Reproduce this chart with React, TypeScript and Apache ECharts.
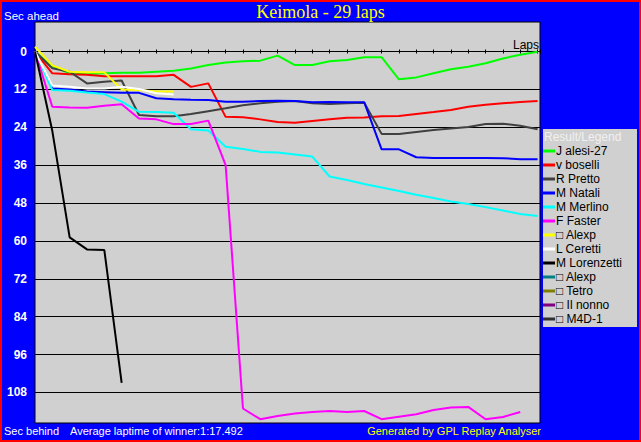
import React, { useEffect, useRef } from 'react';
import * as echarts from 'echarts';

// Tick labels on the "Sec ahead / behind" axis
const Y_TICKS = [0, 12, 24, 36, 48, 60, 72, 84, 96, 108];

// Driver names (legend order) and colours
const NAMES = [
  'J alesi-27',
  'v boselli',
  'R Pretto',
  'M Natali',
  'M Merlino',
  'F Faster',
  '□ Alexp',
  'L Ceretti',
  'M Lorenzetti',
  '□ Alexp ',
  '□ Tetro',
  '□ Il nonno',
  '□ M4D-1',
];
const COLORS = [
  '#00ff00', '#ff0000', '#404040', '#0000ff', '#00ffff', '#ff00ff',
  '#ffff00', '#ffffff', '#000000', '#008080', '#808000', '#800080', '#303030',
];

// Seconds behind the winner's pace, one value per lap (lap 0..)
const JALESI = [0, 4.8, 6.9, 7.2, 6.9, 6.7, 6.7, 6.4, 6.1, 5.4, 4.3, 3.5, 3.1, 2.9, 1.3, 4.3, 4.3, 3.1, 2.7, 1.8, 1.8, 8.8, 8.2, 6.9, 5.6, 4.8, 3.7, 2.2, 1.0, 0.1];
const BOSELLI = [0, 6.9, 7.2, 7.4, 7.8, 7.8, 7.8, 7.8, 7.4, 11.2, 10.1, 20.7, 20.8, 21.5, 22.3, 22.6, 22.0, 21.5, 21.0, 20.9, 20.5, 20.4, 19.8, 19.2, 18.5, 17.5, 16.9, 16.4, 16.0, 15.7];
const PRETTO = [0, 5.3, 6.4, 10.1, 9.6, 9.2, 20.1, 20.5, 20.5, 19.8, 18.9, 18.0, 17.0, 16.4, 15.9, 15.7, 16.4, 16.6, 16.4, 16.2, 26.1, 26.1, 25.5, 24.9, 24.4, 23.9, 23.0, 22.9, 23.5, 24.6];
const NATALI = [0, 11.7, 12.0, 12.7, 12.9, 13.1, 13.1, 14.8, 15.1, 15.3, 15.4, 15.9, 15.9, 15.7, 15.6, 15.7, 16.1, 16.0, 16.1, 16.1, 31.0, 31.0, 33.5, 33.7, 33.7, 33.7, 33.7, 33.8, 34.1, 34.1];
const MERLINO = [0, 12.2, 12.4, 13.0, 13.5, 15.9, 19.1, 19.2, 19.4, 24.6, 25.0, 30.2, 30.9, 31.8, 32.0, 32.6, 33.3, 39.6, 40.7, 42.0, 43.1, 44.2, 45.4, 46.4, 47.5, 48.3, 49.3, 50.4, 51.5, 52.1];
const FASTER = [0, 17.5, 17.7, 17.8, 17.2, 16.7, 21.2, 21.5, 23.0, 23.0, 21.9, 36.0, 113.1, 116.5, 115.5, 114.7, 114.2, 113.9, 114.2, 113.9, 116.5, 115.7, 114.9, 113.6, 112.8, 112.6, 116.5, 115.8, 114.2];
const ALEXP = [-1.5, 4.4, 6.4, 6.6, 6.6, 12.0, 12.2, 12.7, 12.7];
const CERETTI = [0, 10.8, 11.2, 11.7, 11.7, 11.2, 11.9, 13.2, 13.6];
const LORENZETTI = [0, 25.2, 58.9, 62.7, 62.9, 105.0];
const ALEXP2: number[] = [];
const TETRO: number[] = [];
const ILNONNO: number[] = [];
const M4D1: number[] = [];

const SERIES_VALUES = [JALESI, BOSELLI, PRETTO, NATALI, MERLINO, FASTER, ALEXP, CERETTI, LORENZETTI, ALEXP2, TETRO, ILNONNO, M4D1];

const TITLE = 'Keimola - 29 laps';

export default function App() {
  const ref = useRef<HTMLDivElement>(null);

  useEffect(() => {
    document.body.style.margin = '0';
    const chart = echarts.init(ref.current as HTMLDivElement, null, { renderer: 'svg' });
    const sans = "'Liberation Sans', Arial, sans-serif";

    const series: any[] = NAMES.map((name, i) => ({
      type: 'line',
      name,
      z: 10,
      data: SERIES_VALUES[i].map((v, lap) => [lap, v]),
      symbol: 'none',
      showSymbol: false,
      lineStyle: { color: COLORS[i], width: 2 },
      itemStyle: { color: COLORS[i] },
      emphasis: { disabled: true },
    }));
    series[0].markLine = {
      silent: true,
      symbol: ['none', 'none'],
      label: { show: false },
      lineStyle: { color: '#000000', width: 1, type: 'solid' },
      data: Y_TICKS.filter((v) => v > 0).map((v) => ({ yAxis: v })),
    };

    chart.setOption({
      animation: false,
      backgroundColor: '#0000ff',
      title: {
        text: TITLE,
        left: 'center',
        top: 3,
        padding: 0,
        textStyle: { color: '#ffff00', fontFamily: "'Liberation Serif', 'Times New Roman', serif", fontSize: 18, fontWeight: 'normal' },
      },
      grid: {
        left: 35,
        right: 101,
        top: 22,
        bottom: 19,
        show: true,
        backgroundColor: '#d0d0d0',
        borderColor: '#000000',
        borderWidth: 1,
        containLabel: false,
      },
      xAxis: [
        {
          type: 'value',
          min: 0,
          max: 29.14,
          interval: 1,
          axisLine: { show: true, onZero: true, lineStyle: { color: '#000000', width: 1 } },
          axisTick: { show: true, length: 2, lineStyle: { color: '#000000' } },
          axisLabel: { show: false },
          splitLine: { show: false },
        },
        {
          type: 'value',
          position: 'top',
          offset: -29.5,
          min: 0,
          max: 29.14,
          interval: 1,
          axisLine: { show: false, onZero: false },
          axisTick: { show: true, length: 2, lineStyle: { color: '#000000' } },
          axisLabel: { show: false },
          splitLine: { show: false },
        },
      ],
      yAxis: {
        type: 'value',
        inverse: true,
        min: -9.35,
        max: 117.7,
        axisLine: { show: false },
        axisTick: { show: false },
        splitLine: { show: false },
        axisLabel: {
          customValues: Y_TICKS,
          color: '#ffffff',
          fontWeight: 'bold',
          fontSize: 12,
          fontFamily: sans,
          margin: 8,
        },
      },
      legend: {
        data: NAMES,
        orient: 'vertical',
        left: 543,
        top: 145,
        padding: 0,
        itemWidth: 12,
        itemHeight: 3,
        itemGap: 2,
        icon: 'rect',
        selectedMode: false,
        textStyle: { fontSize: 12, fontFamily: sans, color: '#000000', lineHeight: 12, padding: [0, 0, 0, -4] },
      },
      graphic: [
        { type: 'rect', z: 1, shape: { x: 1, y: 1, width: 639, height: 440 }, style: { fill: 'none', stroke: '#ff0000', lineWidth: 2 } },
        { type: 'rect', z: 1, shape: { x: 543, y: 129, width: 94, height: 198 }, style: { fill: '#d0d0d0' } },
        { type: 'text', z: 20, x: 544, y: 137, style: { text: 'Result/Legend', fill: '#f0f0f0', font: `12px ${sans}`, textVerticalAlign: 'middle' } },
        { type: 'text', z: 20, x: 4, y: 16, style: { text: 'Sec ahead', fill: '#ffffff', font: `11.5px ${sans}`, textVerticalAlign: 'middle' } },
        { type: 'text', z: 20, x: 539, y: 45, style: { text: 'Laps', fill: '#000000', font: `12px ${sans}`, textAlign: 'right', textVerticalAlign: 'middle' } },
        { type: 'text', z: 20, x: 4, y: 431, style: { text: 'Sec behind', fill: '#ffffff', font: `11px ${sans}`, textVerticalAlign: 'middle' } },
        { type: 'text', z: 20, x: 70, y: 431, style: { text: 'Average laptime of winner:1:17.492', fill: '#ffffff', font: `11px ${sans}`, textVerticalAlign: 'middle' } },
        { type: 'text', z: 20, x: 541, y: 431, style: { text: 'Generated by GPL Replay Analyser', fill: '#ffff00', font: `11px ${sans}`, textAlign: 'right', textVerticalAlign: 'middle' } },
      ],
      series,
    });

    return () => chart.dispose();
  }, []);

  return <div ref={ref} style={{ width: 641, height: 442 }} />;
}
